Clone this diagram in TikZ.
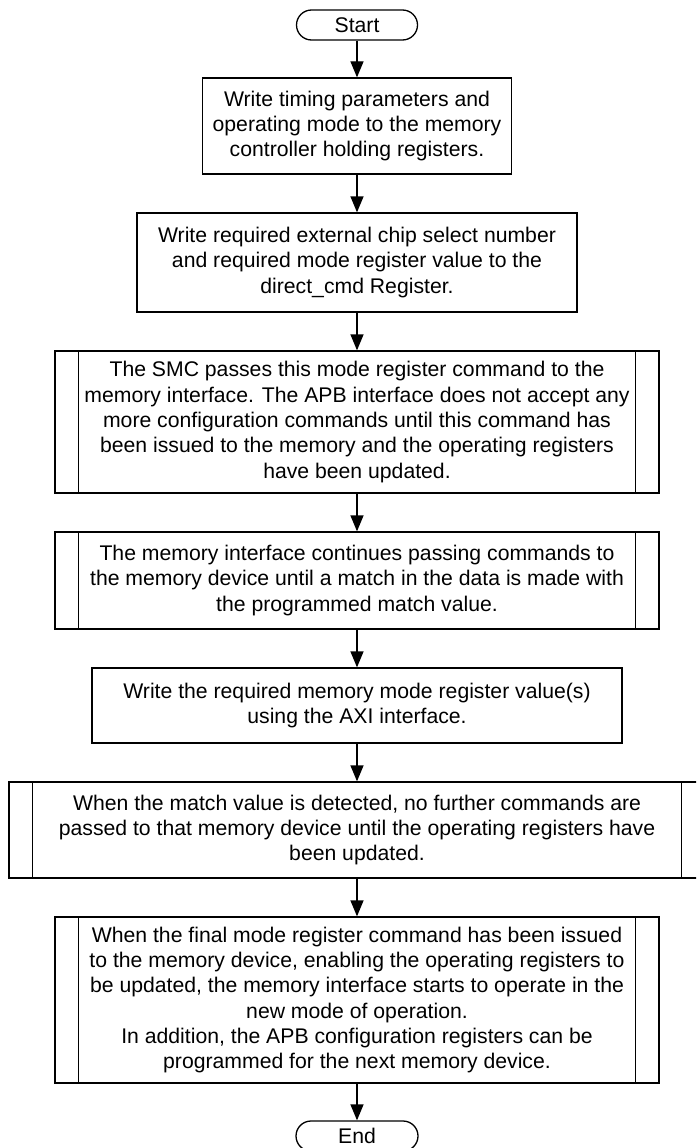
\documentclass[tikz,border=0pt]{standalone}
\usepackage{fontspec}
\setmainfont{Liberation Sans}
\usetikzlibrary{arrows.meta}
\begin{document}
\begin{tikzpicture}[x=1pt,y=-1pt,
  every node/.style={font=\fontsize{21.2}{25.3}\selectfont, align=center, inner sep=0pt, text=black},
  box/.style={draw=black, line width=1.3pt, rectangle},
  term/.style={draw=black, line width=1.3pt, rectangle, rounded corners=15pt, minimum height=30pt},
  arr/.style={draw=black, line width=1.3pt, -{Triangle[length=16pt,width=13pt]}},
  sidebar/.style={draw=black, line width=1.3pt}
]
\useasboundingbox (0,0) rectangle (696,1148);
\clip (0,0) rectangle (696,1148);

\node[term, minimum width=121pt] (start) at (357,25) {Start};

\node[box, minimum width=309pt, minimum height=96pt] (b1) at (357,126)
  {Write timing parameters and\\operating mode to the memory\\controller holding registers.};

\node[box, minimum width=440pt, minimum height=99pt] (b2) at (357,262.5)
  {Write required external chip select number\\and required mode register value to the\\direct\_cmd Register.};

\node[box, minimum width=604pt, minimum height=142pt] (b3) at (357,422)
  {The SMC passes this mode register command to the\\memory interface. The APB interface does not accept any\\more configuration commands until this command has\\been issued to the memory and the operating registers\\have been updated.};

\node[box, minimum width=604pt, minimum height=97pt] (b4) at (357,580.5)
  {The memory interface continues passing commands to\\the memory device until a match in the data is made with\\the programmed match value.};

\node[box, minimum width=530pt, minimum height=75pt] (b5) at (357,705.5)
  {Write the required memory mode register value(s)\\using the AXI interface.};

\node[box, minimum width=696pt, minimum height=96pt] (b6) at (357,830)
  {When the match value is detected, no further commands are\\passed to that memory device until the operating registers have\\been updated.};

\node[box, minimum width=604pt, minimum height=166pt] (b7) at (357,1000)
  {When the final mode register command has been issued\\to the memory device, enabling the operating registers to\\be updated, the memory interface starts to operate in the\\new mode of operation.\\In addition, the APB configuration registers can be\\programmed for the next memory device.};

\node[term, minimum width=122pt] (end) at (357,1136) {End};

% predefined-process side bars
\foreach \n in {b3,b4,b6,b7}{
  \draw[sidebar] ([xshift=24pt]\n.north west) -- ([xshift=24pt]\n.south west);
  \draw[sidebar] ([xshift=-24pt]\n.north east) -- ([xshift=-24pt]\n.south east);
}

\draw[arr] (start) -- (b1);
\draw[arr] (b1) -- (b2);
\draw[arr] (b2) -- (b3);
\draw[arr] (b3) -- (b4);
\draw[arr] (b4) -- (b5);
\draw[arr] (b5) -- (b6);
\draw[arr] (b6) -- (b7);
\draw[arr] (b7) -- (end);
\end{tikzpicture}
\end{document}
